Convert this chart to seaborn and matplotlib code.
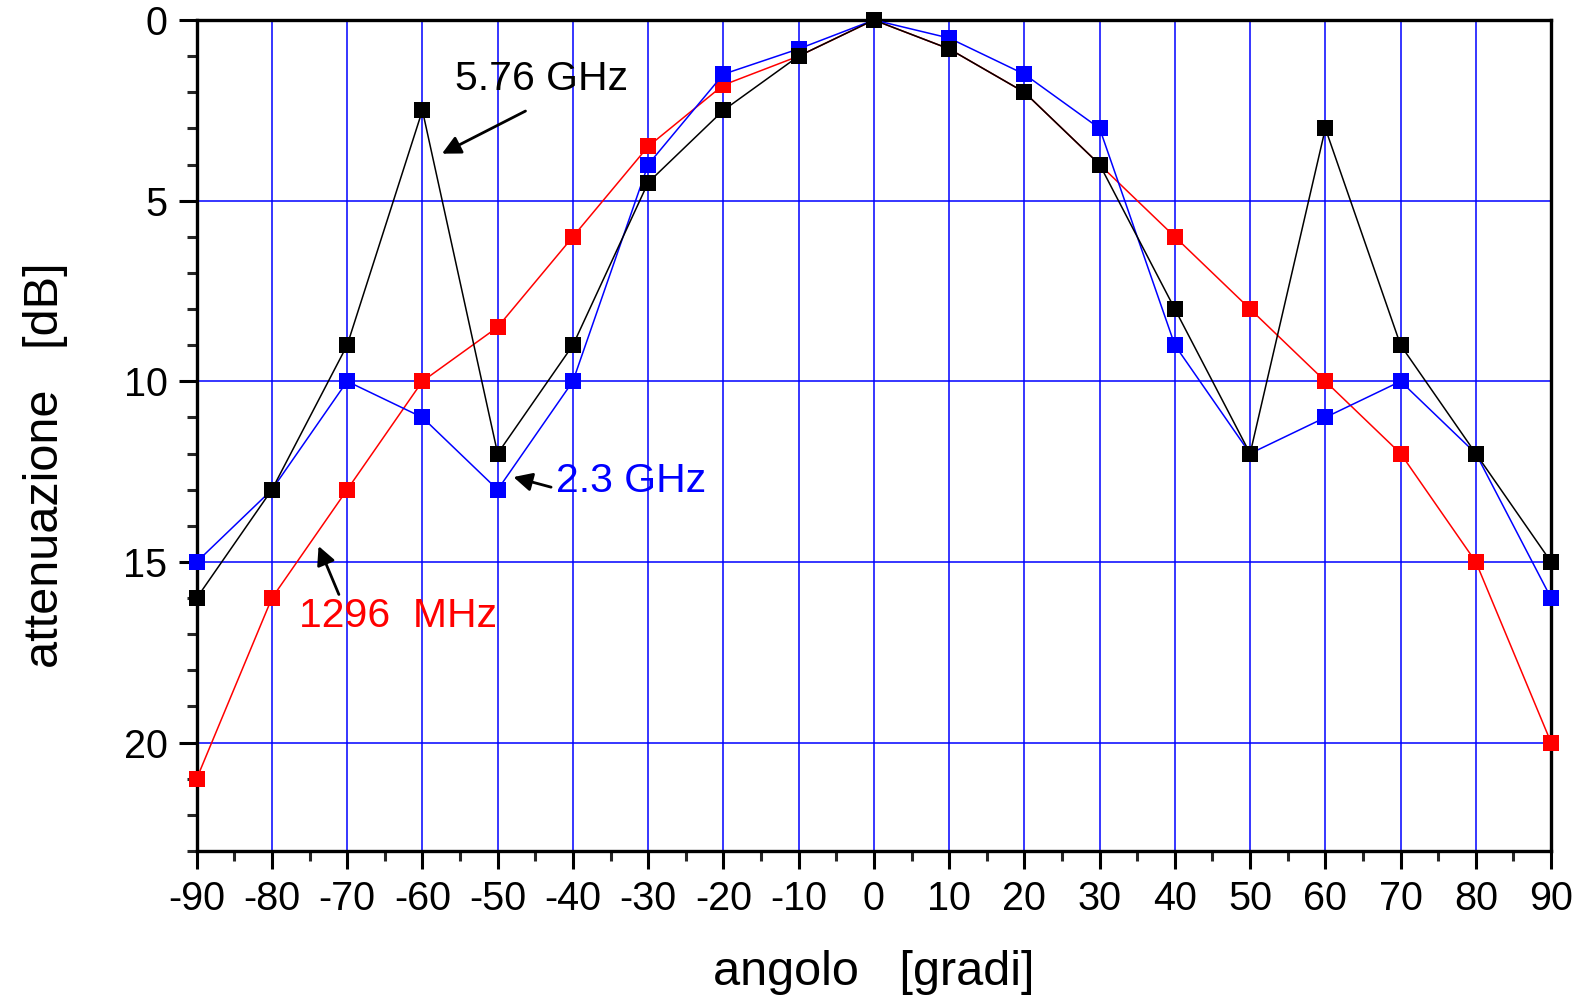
import numpy as np
import pandas as pd
import matplotlib.pyplot as plt
import seaborn as sns
from matplotlib.ticker import MultipleLocator

# angles and measured attenuation (dB) for the three bands
angolo = [-90, -80, -70, -60, -50, -40, -30, -20, -10, 0, 10, 20, 30, 40, 50, 60, 70, 80, 90]
att_1296 = [21, 16, 13, 10, 8.5, 6, 3.5, 1.8, 1, 0, 0.8, 2, 4, 6, 8, 10, 12, 15, 20]
att_2300 = [15, 13, 10, 11, 13, 10, 4, 1.5, 0.8, 0, 0.5, 1.5, 3, 9, 12, 11, 10, 12, 16]
att_5760 = [16, 13, 9, 2.5, 12, 9, 4.5, 2.5, 1, 0, 0.8, 2, 4, 8, 12, 3, 9, 12, 15]

series = ["1296 MHz", "2.3 GHz", "5.76 GHz"]
colors = ["#ff0000", "#0000ff", "#000000"]

df = pd.DataFrame({
    "angolo": angolo * 3,
    "att": att_1296 + att_2300 + att_5760,
    "banda": [s for s in series for _ in angolo],
})

sns.set_style("ticks")
plt.rcParams['font.family'] = ['Liberation Sans', 'DejaVu Sans']
plt.rcParams['axes.unicode_minus'] = False
plt.rcParams['axes.labelcolor'] = 'black'

fig = plt.figure(figsize=(15.86, 10), dpi=100)
ax = fig.add_axes([0.124, 0.149, 0.854, 0.831])

for name, col in zip(series, colors):
    sns.lineplot(data=df[df["banda"] == name], x="angolo", y="att", color=col,
                 marker="s", markersize=12, markeredgewidth=0, lw=1.1, ax=ax,
                 zorder=3, clip_on=False)

ax.set_xlim(-90, 90)
ax.set_ylim(23, 0)
ax.xaxis.set_major_locator(MultipleLocator(10))
ax.xaxis.set_minor_locator(MultipleLocator(5))
ax.yaxis.set_minor_locator(MultipleLocator(1))
ax.set_yticks([0, 5, 10, 15, 20])

ax.grid(True, which="major", color="#0000ff", lw=1.1)
for s in ax.spines.values():
    s.set_linewidth(2.4)
    s.set_color("black")
ax.tick_params(which="major", direction="out", length=13, width=2.2, labelsize=28.5,
               colors="black", pad=8)
ax.tick_params(which="minor", direction="out", length=7, width=2.2)

ax.set_xlabel("angolo   [gradi]", fontsize=35, labelpad=23)
ax.set_ylabel("attenuazione   [dB]", fontsize=35, labelpad=40, y=0.464)

# labels with arrows
arrow = dict(arrowstyle="-|>", color="black", lw=2, mutation_scale=28, shrinkA=0, shrinkB=0)
ax.text(-55.7, 1.63, "5.76 GHz", fontsize=29.5, color="black", ha="left", va="center")
ax.annotate("", xy=(-57.4, 3.7), xytext=(-46.3, 2.52), arrowprops=arrow)
ax.text(-42.3, 12.77, "2.3 GHz", fontsize=29.5, color="#0000ff", ha="left", va="center")
ax.annotate("", xy=(-47.9, 12.65), xytext=(-42.9, 12.93), arrowprops=arrow)
ax.text(-76.4, 16.5, "1296  MHz", fontsize=29.5, color="#ff0000", ha="left", va="center")
ax.annotate("", xy=(-73.8, 14.56), xytext=(-71.1, 15.9), arrowprops=arrow)

plt.savefig("out.png", dpi=100)
